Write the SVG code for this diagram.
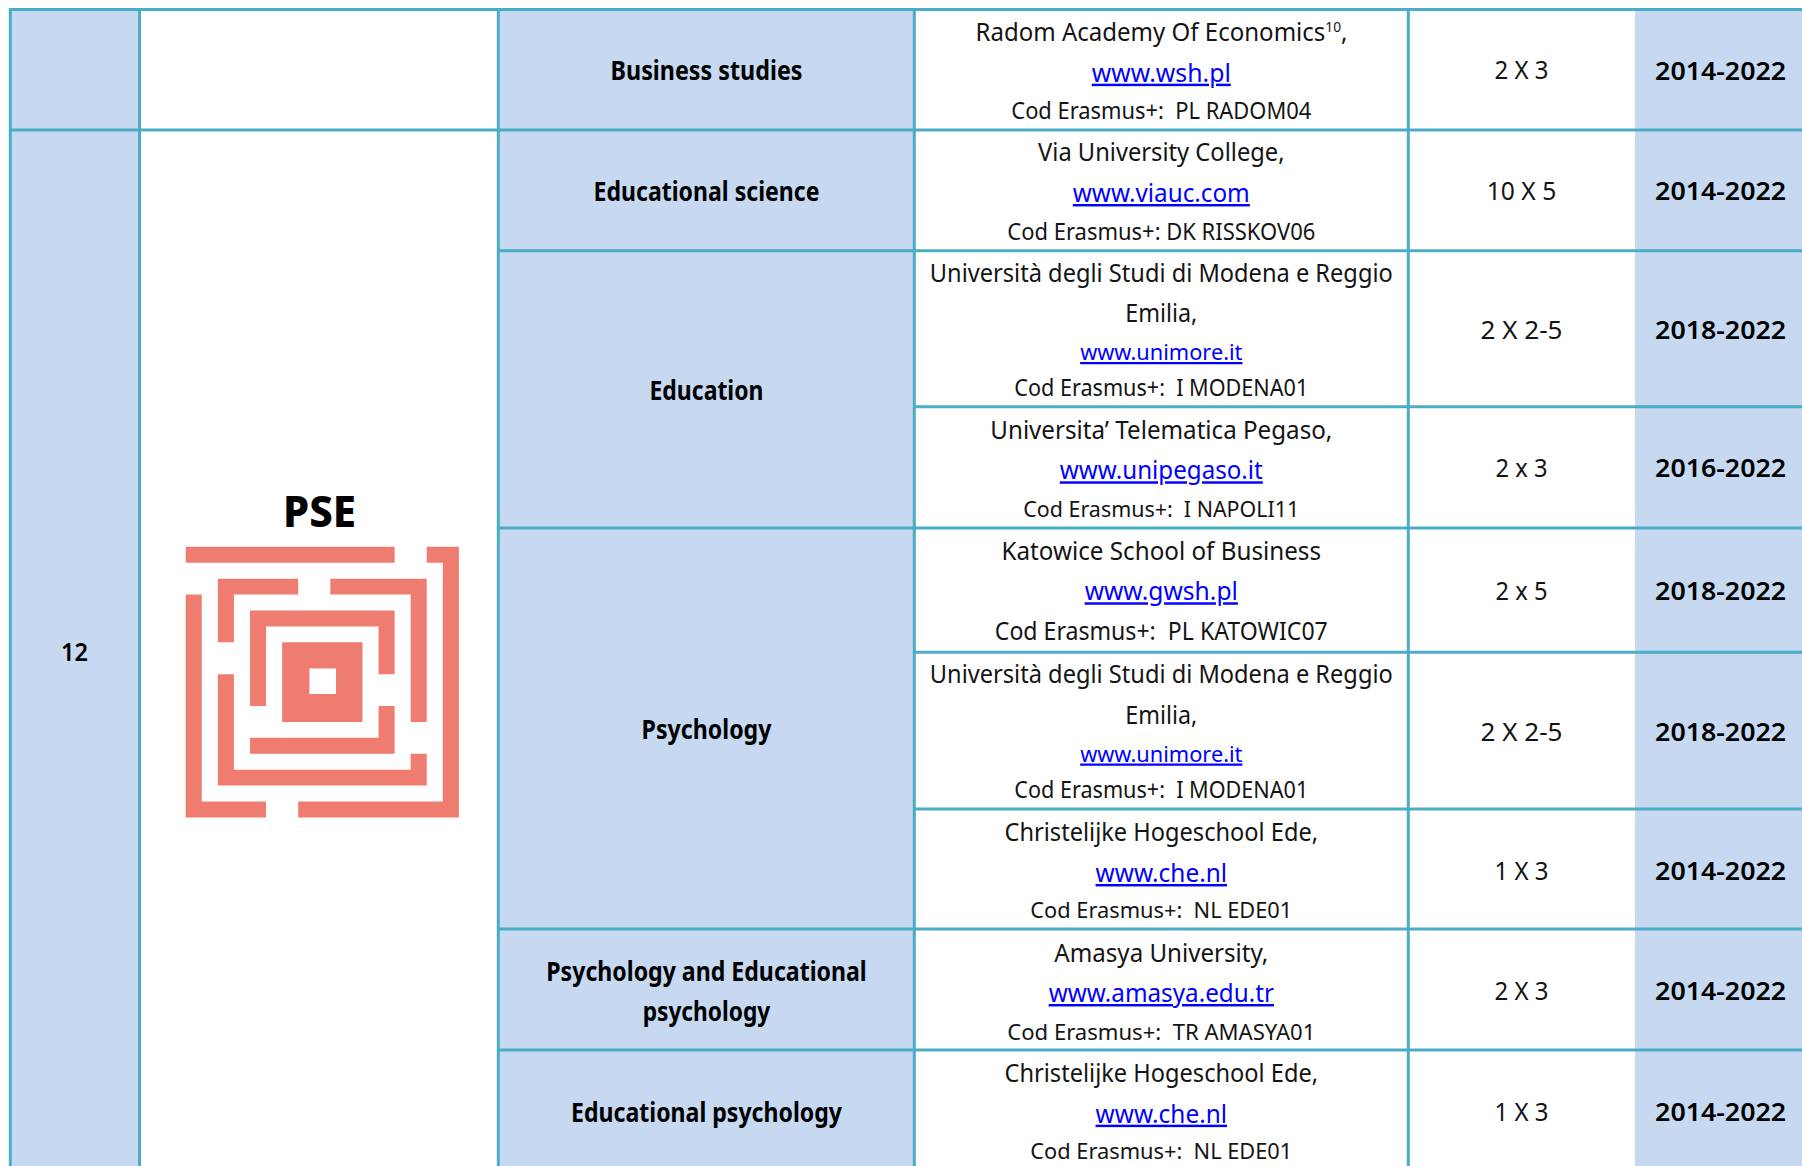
<svg xmlns="http://www.w3.org/2000/svg" width="1802" height="1166" viewBox="0 0 1802 1166">
<style>
text{font-family:"Noto Sans","Open Sans","Liberation Sans",sans-serif;white-space:pre;text-anchor:middle;fill:#141414;font-size:24.5px}
.c{font-size:23px}
.l{fill:#0000ff;text-decoration:underline}
.s{font-size:22.5px}
.b{font-weight:700;fill:#000;font-size:26px}
.y{font-weight:600;fill:#000;font-size:26px}
.n{font-size:25.5px}
.f{fill:#c6d9f1}
.g{stroke:#4bacc6;stroke-width:3;fill:none}
</style>
<rect width="1802" height="1166" fill="#fff"/>
<g id="fills">
<rect class="f" x="10" y="9" width="130" height="1157"/>
<rect class="f" x="498" y="9" width="416" height="1157"/>
<rect class="f" x="1635" y="9" width="167" height="1157"/>
</g>
<g id="grid" class="g">
<path d="M9 9.5H1802M9 130H1802M498 250.8H1802M914 406.8H1802M498 528H1802M914 652.2H1802M914 809H1802M498 929H1802M498 1050H1802"/>
<path d="M10.3 8V1166M139.5 8V1166M498.3 8V1166M914.3 8V1166M1408.3 8V1166"/>
</g>
<g id="col-number"><text class="y" x="74.6" y="661" textLength="27" lengthAdjust="spacingAndGlyphs">12</text></g>
<g id="pse">
<text x="319.5" y="526.5" textLength="73" lengthAdjust="spacingAndGlyphs" style="font-size:42px;font-weight:800;fill:#000">PSE</text>
<path transform="translate(185.7 546.8) scale(16.07 15.92)" fill="#ef7c71" fill-rule="evenodd" d="M0 0H13V1H0ZM15 0H17V17H7V16H16V1H15ZM0 3H1V16H5V17H0ZM2 2H7V3H3V6H2ZM9 2H15V11H14V3H9ZM2 8H3V14H14V13H15V15H2ZM4 4H13V8H12V5H5V10H4ZM4 12H12V10H13V13H4ZM6 6H11V11H6ZM7.7 7.65V9.25H9.35V7.65Z"/>
</g>
<g id="col-programme">
<text class="b" x="706.5" y="80" textLength="192" lengthAdjust="spacingAndGlyphs">Business studies</text>
<text class="b" x="706.5" y="200.8" textLength="226" lengthAdjust="spacingAndGlyphs">Educational science</text>
<text class="b" x="706.5" y="400" textLength="114" lengthAdjust="spacingAndGlyphs">Education</text>
<text class="b" x="706.5" y="739" textLength="130" lengthAdjust="spacingAndGlyphs">Psychology</text>
<text class="b" x="706.5" y="981" textLength="320.5" lengthAdjust="spacingAndGlyphs">Psychology and Educational</text>
<text class="b" x="706.5" y="1021" textLength="127.7" lengthAdjust="spacingAndGlyphs">psychology</text>
<text class="b" x="706.5" y="1122" textLength="271" lengthAdjust="spacingAndGlyphs">Educational psychology</text>
</g>
<g id="col-university">
<text x="1161.5" y="40.7" textLength="372" lengthAdjust="spacingAndGlyphs">Radom Academy Of Economics<tspan dy="-9" style="font-size:14px">10</tspan><tspan dy="9">,</tspan></text>
<text class="l" x="1161.3" y="81.7" textLength="139" lengthAdjust="spacingAndGlyphs">www.wsh.pl</text>
<text class="c" x="1161.3" y="119" textLength="300" lengthAdjust="spacingAndGlyphs">Cod Erasmus+:  PL RADOM04</text>
<text x="1161.3" y="160.7" textLength="246.5" lengthAdjust="spacingAndGlyphs">Via University College,</text>
<text class="l" x="1161.3" y="202" textLength="177" lengthAdjust="spacingAndGlyphs">www.viauc.com</text>
<text class="c" x="1161.3" y="240" textLength="308" lengthAdjust="spacingAndGlyphs">Cod Erasmus+: DK RISSKOV06</text>
<text x="1161.3" y="281.7" textLength="463" lengthAdjust="spacingAndGlyphs">Università degli Studi di Modena e Reggio</text>
<text x="1161.3" y="321.7" textLength="72" lengthAdjust="spacingAndGlyphs">Emilia,</text>
<text class="l s" x="1161.3" y="360" textLength="162.3" lengthAdjust="spacingAndGlyphs">www.unimore.it</text>
<text class="c" x="1161.3" y="395.7" textLength="294" lengthAdjust="spacingAndGlyphs">Cod Erasmus+:  I MODENA01</text>
<text x="1161.3" y="439.3" textLength="342" lengthAdjust="spacingAndGlyphs">Universita’ Telematica Pegaso,</text>
<text class="l" x="1161.3" y="479.3" textLength="203" lengthAdjust="spacingAndGlyphs">www.unipegaso.it</text>
<text class="s" x="1161.3" y="516.7" textLength="276" lengthAdjust="spacingAndGlyphs">Cod Erasmus+:  I NAPOLI11</text>
<text x="1161.3" y="559.5" textLength="319.5" lengthAdjust="spacingAndGlyphs">Katowice School of Business</text>
<text class="l" x="1161.3" y="600.3" textLength="153.3" lengthAdjust="spacingAndGlyphs">www.gwsh.pl</text>
<text x="1161.3" y="640.2" textLength="333" lengthAdjust="spacingAndGlyphs">Cod Erasmus+:  PL KATOWIC07</text>
<text x="1161.3" y="682.7" textLength="463" lengthAdjust="spacingAndGlyphs">Università degli Studi di Modena e Reggio</text>
<text x="1161.3" y="724.3" textLength="72" lengthAdjust="spacingAndGlyphs">Emilia,</text>
<text class="l s" x="1161.3" y="761.5" textLength="162.3" lengthAdjust="spacingAndGlyphs">www.unimore.it</text>
<text class="c" x="1161.3" y="798" textLength="294" lengthAdjust="spacingAndGlyphs">Cod Erasmus+:  I MODENA01</text>
<text x="1161.3" y="841" textLength="313.5" lengthAdjust="spacingAndGlyphs">Christelijke Hogeschool Ede,</text>
<text class="l" x="1161.3" y="882" textLength="131.5" lengthAdjust="spacingAndGlyphs">www.che.nl</text>
<text class="s" x="1161.3" y="917.7" textLength="262" lengthAdjust="spacingAndGlyphs">Cod Erasmus+:  NL EDE01</text>
<text x="1161.3" y="961.7" textLength="214" lengthAdjust="spacingAndGlyphs">Amasya University,</text>
<text class="l" x="1161.3" y="1002" textLength="225.3" lengthAdjust="spacingAndGlyphs">www.amasya.edu.tr</text>
<text class="s" x="1161.3" y="1039.7" textLength="308" lengthAdjust="spacingAndGlyphs">Cod Erasmus+:  TR AMASYA01</text>
<text x="1161.3" y="1081.7" textLength="313.5" lengthAdjust="spacingAndGlyphs">Christelijke Hogeschool Ede,</text>
<text class="l" x="1161.3" y="1122.7" textLength="131.5" lengthAdjust="spacingAndGlyphs">www.che.nl</text>
<text class="s" x="1161.3" y="1159.3" textLength="262" lengthAdjust="spacingAndGlyphs">Cod Erasmus+:  NL EDE01</text>
</g>
<g id="col-mobility">
<text class="n" x="1521.5" y="79" textLength="54" lengthAdjust="spacingAndGlyphs">2 X 3</text>
<text class="n" x="1521.5" y="199.7" textLength="69.5" lengthAdjust="spacingAndGlyphs">10 X 5</text>
<text class="n" x="1521.5" y="339" textLength="82" lengthAdjust="spacingAndGlyphs">2 X 2-5</text>
<text class="n" x="1521.5" y="477" textLength="52" lengthAdjust="spacingAndGlyphs">2 x 3</text>
<text class="n" x="1521.5" y="600" textLength="52" lengthAdjust="spacingAndGlyphs">2 x 5</text>
<text class="n" x="1521.5" y="741" textLength="82" lengthAdjust="spacingAndGlyphs">2 X 2-5</text>
<text class="n" x="1521.5" y="880" textLength="54" lengthAdjust="spacingAndGlyphs">1 X 3</text>
<text class="n" x="1521.5" y="999.8" textLength="54" lengthAdjust="spacingAndGlyphs">2 X 3</text>
<text class="n" x="1521.5" y="1121" textLength="54" lengthAdjust="spacingAndGlyphs">1 X 3</text>
</g>
<g id="col-years">
<text class="y" x="1720.6" y="79.7" textLength="131" lengthAdjust="spacingAndGlyphs">2014-2022</text>
<text class="y" x="1720.6" y="200" textLength="131" lengthAdjust="spacingAndGlyphs">2014-2022</text>
<text class="y" x="1720.6" y="339" textLength="131" lengthAdjust="spacingAndGlyphs">2018-2022</text>
<text class="y" x="1720.6" y="477" textLength="131" lengthAdjust="spacingAndGlyphs">2016-2022</text>
<text class="y" x="1720.6" y="600" textLength="131" lengthAdjust="spacingAndGlyphs">2018-2022</text>
<text class="y" x="1720.6" y="741" textLength="131" lengthAdjust="spacingAndGlyphs">2018-2022</text>
<text class="y" x="1720.6" y="880" textLength="131" lengthAdjust="spacingAndGlyphs">2014-2022</text>
<text class="y" x="1720.6" y="999.8" textLength="131" lengthAdjust="spacingAndGlyphs">2014-2022</text>
<text class="y" x="1720.6" y="1121" textLength="131" lengthAdjust="spacingAndGlyphs">2014-2022</text>
</g>
</svg>
